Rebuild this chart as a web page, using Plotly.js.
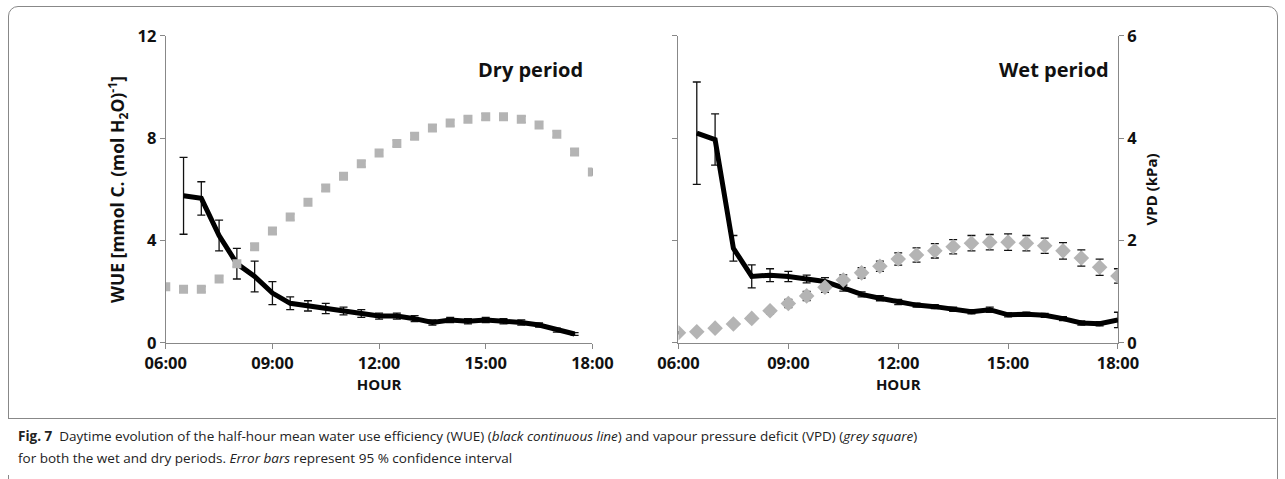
<!DOCTYPE html>
<html>
<head>
<meta charset="utf-8">
<script src="https://cdn.plot.ly/plotly-3.0.1.min.js"></script>
<style>
body { margin: 0; background: #fff; }
#wrap { position: relative; width: 1285px; height: 479px; }
#chart { position: absolute; left: 0; top: 0; width: 1285px; height: 479px; }
#frame { position: absolute; left: 8px; top: 6px; width: 1268px; height: 500px; border: 1px solid #888; border-radius: 10px; pointer-events: none; }
#caption { position: absolute; left: 8px; top: 418px; width: 1268px; border-top: 1px solid #888; padding: 6px 10px; box-sizing: border-box;
  font-family: "Open Sans", sans-serif; font-size: 13.5px; line-height: 22px; color: #222; background: #fff; }
</style>
</head>
<body>
<div id="wrap">
<div id="chart"></div>
<div id="frame"></div>
<div id="caption"><b>Fig. 7</b>&nbsp; Daytime evolution of the half-hour mean water use efficiency (WUE) (<i>black continuous line</i>) and vapour pressure deficit (VPD) (<i>grey square</i>)<br>for both the wet and dry periods. <i>Error bars</i> represent 95 % confidence interval</div>
</div>
<script>
// half-hour timestamps (hours)
var hoursWue = [6.5,7,7.5,8,8.5,9,9.5,10,10.5,11,11.5,12,12.5,13,13.5,14,14.5,15,15.5,16,16.5,17,17.5,18];
var hoursVpd = [6,6.5,7,7.5,8,8.5,9,9.5,10,10.5,11,11.5,12,12.5,13,13.5,14,14.5,15,15.5,16,16.5,17,17.5,18];

var dryWue    = [5.75,5.65,4.2,3.1,2.6,1.95,1.55,1.45,1.35,1.25,1.15,1.05,1.05,0.95,0.8,0.9,0.85,0.9,0.85,0.8,0.7,0.5,0.35];
var dryWueErr = [1.5,0.65,0.6,0.6,0.6,0.45,0.25,0.2,0.2,0.15,0.15,0.12,0.12,0.12,0.1,0.1,0.1,0.1,0.1,0.1,0.08,0.08,0.05];
var dryVpd    = [1.1,1.05,1.05,1.25,1.55,1.88,2.19,2.46,2.75,3.03,3.26,3.5,3.71,3.9,4.04,4.2,4.3,4.37,4.42,4.42,4.37,4.26,4.08,3.73,3.34];
var dryVpdErr = [0.05,0.05,0.05,0.06,0.06,0.06,0.06,0.06,0.06,0.06,0.06,0.06,0.06,0.06,0.06,0.06,0.06,0.06,0.06,0.06,0.06,0.06,0.06,0.06,0.06];

var wetWue    = [8.2,7.95,3.7,2.6,2.65,2.6,2.5,2.4,2.15,1.9,1.75,1.6,1.48,1.42,1.32,1.22,1.3,1.1,1.12,1.08,0.95,0.78,0.75,0.9];
var wetWueErr = [2.0,1.0,0.5,0.45,0.25,0.2,0.15,0.15,0.12,0.1,0.1,0.1,0.08,0.08,0.08,0.08,0.1,0.08,0.08,0.08,0.08,0.08,0.08,0.3];
var wetVpd    = [0.2,0.22,0.29,0.37,0.48,0.63,0.77,0.92,1.09,1.23,1.37,1.5,1.64,1.72,1.8,1.88,1.95,1.97,1.97,1.95,1.9,1.8,1.66,1.48,1.31];
var wetVpdErr = [0.02,0.02,0.03,0.04,0.05,0.06,0.08,0.09,0.1,0.1,0.1,0.1,0.12,0.14,0.14,0.14,0.15,0.15,0.16,0.15,0.15,0.16,0.16,0.16,0.14];

var tickHours = [6,9,12,15,18];
var tickText = ['06:00','09:00','12:00','15:00','18:00'];

var grey = '#b4b4b4';
function wueTrace(y, e, xa, ya) {
  return {x: hoursWue.slice(0, y.length), y: y, xaxis: xa, yaxis: ya, mode: 'lines',
    line: {color: '#000', width: 5},
    error_y: {type: 'data', array: e, color: '#111', thickness: 1.3, width: 4}};
}
function vpdTrace(y, e, xa, ya, sym, sz) {
  return {x: hoursVpd, y: y, xaxis: xa, yaxis: ya, mode: 'markers',
    marker: {symbol: sym, color: grey, size: sz},
    error_y: {type: 'data', array: e, color: '#111', thickness: 1.3, width: 4}};
}
var data = [
  vpdTrace(dryVpd, dryVpdErr, 'x', 'y2', 'square', 9),
  wueTrace(dryWue, dryWueErr, 'x', 'y'),
  vpdTrace(wetVpd, wetVpdErr, 'x2', 'y4', 'diamond', 12),
  wueTrace(wetWue, wetWueErr, 'x2', 'y3')
];

var ff = 'Open Sans, sans-serif';
var tf = {family: ff, size: 16.5, color: '#111', weight: 'bold'};
var xBase = {range: [6, 18], tickvals: tickHours, ticktext: tickText, showgrid: false, zeroline: false,
  showline: true, linecolor: '#888', ticks: 'outside', ticklen: 5, tickcolor: '#888', tickfont: tf,
  title: {text: 'HOUR', font: {family: ff, size: 15, color: '#111', weight: 'bold'}, standoff: 6}};
var yWue = {range: [0, 12], tickvals: [0,4,8,12], showgrid: false, zeroline: false, showline: true,
  linecolor: '#888', ticks: 'outside', ticklen: 5, tickcolor: '#888', tickfont: tf};
var layout = {
  width: 1285, height: 479, showlegend: false,
  paper_bgcolor: '#fff', plot_bgcolor: '#fff',
  margin: {l: 0, r: 0, t: 0, b: 0},
  xaxis: Object.assign({}, xBase, {domain: [0.129, 0.461], anchor: 'y'}),
  yaxis: Object.assign({}, yWue, {domain: [0.284, 0.925], anchor: 'x',
    title: {text: 'WUE [mmol C. (mol H<sub>2</sub>O)<sup>-1</sup>]', font: {family: ff, size: 17.5, color: '#111', weight: 'bold'}, standoff: 8}}),
  yaxis2: {range: [0, 6], overlaying: 'y', visible: false, anchor: 'x'},
  xaxis2: Object.assign({}, xBase, {domain: [0.528, 0.870], anchor: 'y3'}),
  yaxis3: Object.assign({}, yWue, {domain: [0.284, 0.925], anchor: 'x2', showticklabels: false}),
  yaxis4: {range: [0, 6], overlaying: 'y3', side: 'right', anchor: 'x2', tickvals: [0,2,4,6],
    showgrid: false, zeroline: false, showline: true, linecolor: '#888', ticks: 'outside', ticklen: 5, tickcolor: '#888', tickfont: tf,
    title: {text: 'VPD (kPa)', font: {family: ff, size: 15, color: '#111', weight: 'bold'}, standoff: 10}},
  annotations: [
    {xref: 'x', yref: 'y', x: 17.8, y: 10.7, text: 'Dry period', showarrow: false, xanchor: 'right',
      font: {family: ff, size: 20, color: '#111', weight: 'bold'}},
    {xref: 'x2', yref: 'y3', x: 17.8, y: 10.7, text: 'Wet period', showarrow: false, xanchor: 'right',
      font: {family: ff, size: 20, color: '#111', weight: 'bold'}}
  ]
};
Plotly.newPlot('chart', data, layout, {displayModeBar: false, staticPlot: true});
</script>
</body>
</html>
